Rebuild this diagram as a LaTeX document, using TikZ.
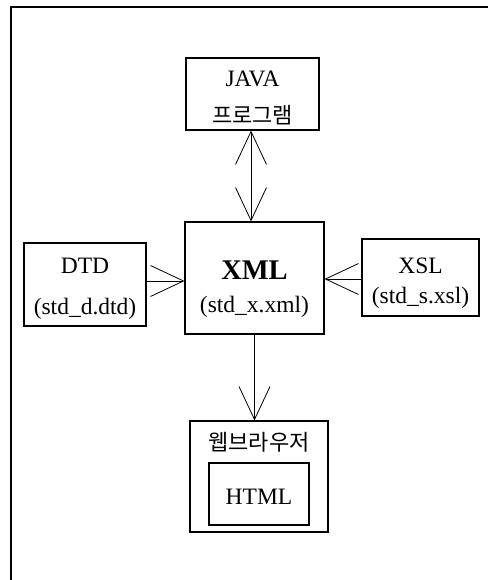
\documentclass[tikz,border=0pt]{standalone}
\usepackage{fontspec}
\setmainfont{Liberation Serif}
\newfontfamily\kor{Noto Sans CJK KR}
\usetikzlibrary{arrows.meta}

\tikzset{
  box/.style={draw, line width=1.1pt, inner sep=0pt},
  txt/.style={inner sep=0pt, font=\fontsize{23.5}{25}\selectfont},
  hangul/.style={inner sep=0pt, font=\kor\fontsize{22}{24}\selectfont},
  link/.style={line width=0.8pt, >={Straight Barb[length=33pt,width=31pt]}},
}

\begin{document}
\begin{tikzpicture}[x=1pt,y=-1pt]
    \useasboundingbox (0,0) rectangle (488,580);
    % frame
    \draw[line width=1.5pt] (11,580) -- (11,7) -- (488,7);

    % boxes
    \node[box, minimum width=133pt, minimum height=72pt] (java) at (252.5,94) {};
    \node[box, minimum width=139pt, minimum height=112pt] (xml) at (254.5,278) {};
    \node[box, minimum width=122pt, minimum height=83pt] (dtd) at (85,284.5) {};
    \node[box, minimum width=117pt, minimum height=77pt] (xsl) at (420.5,277.5) {};
    \node[box, minimum width=138pt, minimum height=111pt] (web) at (259,476.5) {};
    \node[box, minimum width=100pt, minimum height=62pt] (html) at (259,494) {};

    % texts
    \node[txt] (javaA) at (252.5,79) {JAVA};
    \node[hangul] (javaB) at (252.5,115) {프로그램};
    \node[txt, font=\bfseries\fontsize{28.5}{30}\selectfont] (xmlA) at (254.5,270) {XML};
    \node[txt] (xmlB) at (254.5,307) {(std\_x.xml)};
    \node[txt] (dtdA) at (85,266) {DTD};
    \node[txt] (dtdB) at (85,309) {(std\_d.dtd)};
    \node[txt] (xslA) at (420.5,266) {XSL};
    \node[txt] (xslB) at (420.5,298) {(std\_s.xsl)};
    \node[hangul] (webA) at (259,442) {웹브라우저};
    \node[txt] (htmlA) at (259,497) {HTML};

    % connectors
    \draw[link, <->] ([xshift=-1.5pt]java.south) -- ([xshift=-1.5pt]java.south |- xml.north);
    \draw[link, ->] (dtd.east |- 0,281) -- (xml.west |- 0,281);
    \draw[link, ->] (xsl.west |- 0,279) -- (xml.east |- 0,279);
    \draw[link, ->] (xml.south) -- (xml.south |- web.north);
\end{tikzpicture}
\end{document}
